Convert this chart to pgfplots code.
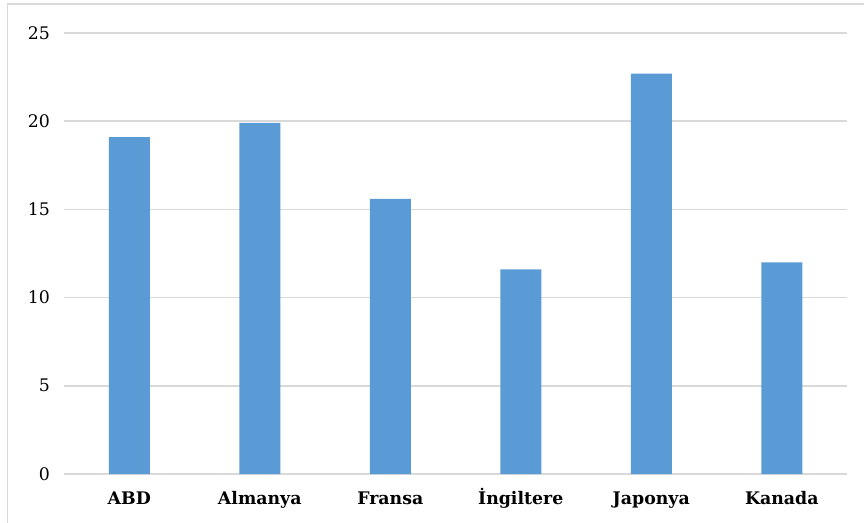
\documentclass[border=0pt]{standalone}
\usepackage{pgfplots}
\pgfplotsset{compat=1.18}
\usepackage{fontspec}
\setmainfont{DejaVu Serif}
\definecolor{barblue}{HTML}{5B9BD5}
\definecolor{gridgray}{HTML}{D9D9D9}
\begin{document}
\begin{tikzpicture}
\useasboundingbox (0pt,0pt) rectangle (648pt,391.5pt);
\draw[gridgray, line width=1.2pt] (5.6pt,-20pt) -- (5.6pt,388.5pt) -- (700pt,388.5pt);
\begin{axis}[
  at={(48pt,36pt)}, anchor=south west,
  width=587.25pt, height=330.75pt, scale only axis,
  xmin=-0.5, xmax=5.5, ymin=0, ymax=25,
  ybar, bar width=30.75pt,
  axis line style={draw=none},
  tick style={draw=none}, major tick length=0pt,
  ymajorgrids, grid style={gridgray, line width=1.1pt},
  ytick={0,5,10,15,20,25},
  xtick={0,1,2,3,4,5},
  xticklabels={ABD,Almanya,Fransa,İngiltere,Japonya,Kanada},
  /pgf/number format/assume math mode=true,
  yticklabel style={font=\fontsize{13}{15}\selectfont, anchor=east, xshift=-7pt},
  xticklabel style={font=\bfseries\fontsize{13}{15}\selectfont, anchor=north, text height=10pt, text depth=3pt, yshift=-9pt},
  clip=false,
]
\addplot[fill=barblue, draw=none] coordinates {(0,19.1) (1,19.9) (2,15.6) (3,11.6) (4,22.7) (5,12.0)};
\end{axis}
\end{tikzpicture}
\end{document}
